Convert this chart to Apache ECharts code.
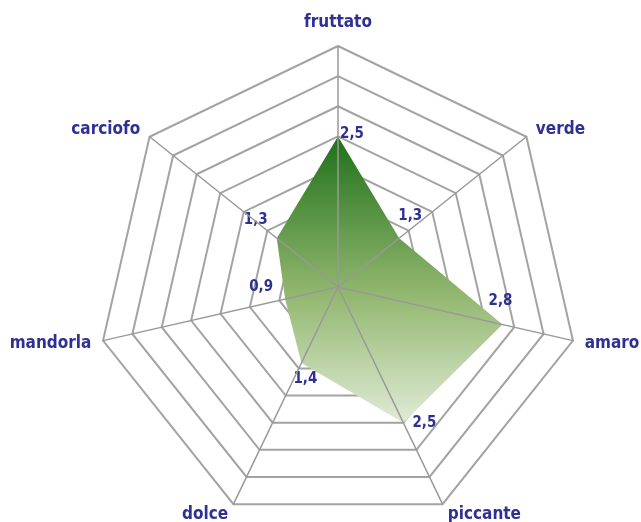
<!DOCTYPE html>
<html>
<head>
<meta charset="utf-8">
<script src="https://cdn.jsdelivr.net/npm/echarts@6/dist/echarts.min.js"></script>
<style>
    html, body { margin: 0; padding: 0; background: #fff; }
    #main { width: 641px; height: 522px; }
</style>
</head>
<body>
<div id="main"></div>
<script>
    // indicatori in senso antiorario partendo dall'alto (come disegna il radar)
    var names = ['fruttato', 'carciofo', 'mandorla', 'dolce', 'piccante', 'amaro', 'verde'];
    var values = [2.5, 1.3, 0.9, 1.4, 2.5, 2.8, 1.3];
    var maxValue = 4;
    var rings = 8;

    // spostamento delle etichette dei valori rispetto al punto (stessa sequenza di names)
    var labelShift = [[14, -2], [-21, -18], [-24, -12], [4, 16], [21, 0], [-2, -23], [11, -22]];

    var CENTER = [338, 287];
    var RADIUS = 241;
    var blue = '#2e3192';
    var font = '"DejaVu Sans Condensed", "DejaVu Sans", sans-serif';

    var indicators = names.map(function (n) {
        return {name: n, max: maxValue, min: 0};
    });

    var chart = echarts.init(document.getElementById('main'));

    chart.setOption({
        animation: false,
        radar: [
            {
                // griglia e nomi
                indicator: indicators,
                center: CENTER,
                radius: RADIUS,
                startAngle: 90,
                shape: 'polygon',
                splitNumber: rings,
                nameGap: 12,
                axisName: {
                    color: blue,
                    fontFamily: font,
                    fontWeight: 'bold',
                    fontSize: 17,
                    formatter: function (name) {
                        if (name === 'fruttato') return '{up|' + name + '}';
                        return name;
                    },
                    rich: {
                        up: {
                            color: blue,
                            fontFamily: font,
                            fontWeight: 'bold',
                            fontSize: 17,
                            padding: [0, 0, 3, 0]
                        }
                    }
                },
                splitLine: {lineStyle: {color: '#a3a3a3', width: 2}},
                splitArea: {show: false},
                axisLine: {show: false}
            },
            {
                // raggi sopra l'area, come nell'originale
                indicator: indicators,
                center: CENTER,
                radius: RADIUS,
                startAngle: 90,
                shape: 'polygon',
                splitNumber: rings,
                z: 5,
                axisName: {show: false},
                splitLine: {show: false},
                splitArea: {show: false},
                axisLine: {lineStyle: {color: '#999999', width: 1.5}}
            }
        ],
        series: [{
            type: 'radar',
            radarIndex: 0,
            symbol: 'circle',
            symbolSize: 2,
            itemStyle: {color: 'rgba(0,0,0,0)'},
            lineStyle: {width: 0, opacity: 0},
            areaStyle: {
                opacity: 1,
                color: new echarts.graphic.LinearGradient(0, 0, 0, 1, [
                    {offset: 0, color: '#1f701a'},
                    {offset: 0.55, color: '#92b76f'},
                    {offset: 1, color: '#e0ebd6'}
                ])
            },
            label: {
                show: true,
                position: 'inside',
                color: blue,
                fontFamily: font,
                fontWeight: 'bold',
                fontSize: 15,
                formatter: function (p) {
                    return String(p.value).replace('.', ',');
                }
            },
            labelLayout: function (p) {
                var x = p.rect.x + p.rect.width / 2;
                var y = p.rect.y + p.rect.height / 2;
                var ang = Math.atan2(CENTER[1] - y, x - CENTER[0]) * 180 / Math.PI;
                var step = 360 / names.length;
                var i = Math.round((((ang - 90) % 360) + 360) % 360 / step) % names.length;
                return {dx: labelShift[i][0], dy: labelShift[i][1]};
            },
            data: [{value: values, name: 'profilo'}]
        }]
    });
</script>
</body>
</html>
